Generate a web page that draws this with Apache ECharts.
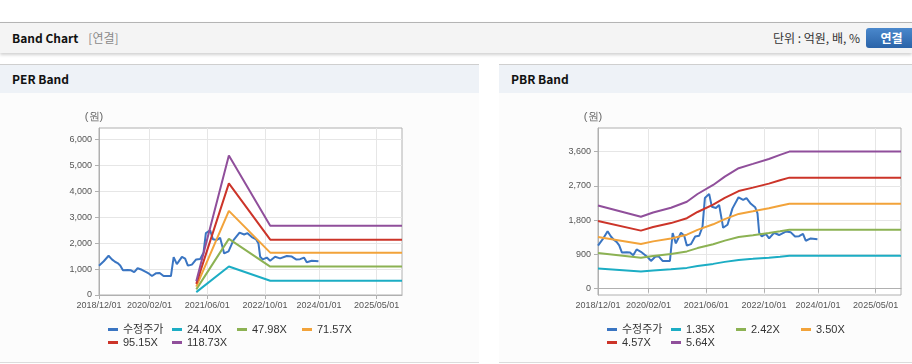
<!DOCTYPE html>
<html>
<head>
<meta charset="utf-8">
<script src="https://cdn.jsdelivr.net/npm/echarts@6/dist/echarts.min.js"></script>
<style>
body { margin:0; background:#fff; font-family:"Noto Sans CJK KR", sans-serif; width:912px; height:364px; position:relative; overflow:hidden; }
.hd { position:absolute; left:0; top:22px; width:912px; height:30px; background:#f4f4f4; border-top:1px solid #b4b4b4; box-shadow:0 2px 3px rgba(0,0,0,0.18); }
.hd .t { position:absolute; left:12px; top:0; line-height:30px; font-size:12px; font-weight:bold; color:#111; }
.hd .t span { color:#8a8a8a; font-weight:normal; margin-left:10px; }
.hd .u { position:absolute; right:52px; top:0; line-height:30px; font-size:12px; color:#333; }
.hd .btn { position:absolute; left:866px; top:5px; width:51px; height:20px; border-radius:3px; background:linear-gradient(#4a88cc,#2a63a8); color:#fff; font-size:12px; font-weight:bold; text-align:center; line-height:20px; }
.panel { position:absolute; top:64px; height:297px; border-top:1px solid #cfcfcf; border-bottom:1px solid #dcdcdc; background:#fcfcfc; }
.panel .ph { height:28px; background:#eef2f7; font-size:12px; font-weight:bold; color:#111; line-height:28px; padding-left:12px; }
.chart { position:absolute; left:0; top:28px; width:100%; height:269px; }
</style>
</head>
<body>
<div class="hd">
  <div class="t">Band Chart<span>[연결]</span></div>
  <div class="u">단위 : 억원, 배, %</div>
  <div class="btn">연결</div>
</div>
<div class="panel" style="left:0;width:479px;">
  <div class="ph">PER Band</div>
  <div class="chart" id="perChart"></div>
</div>
<div class="panel" style="left:499px;width:413px;">
  <div class="ph">PBR Band</div>
  <div class="chart" id="pbrChart"></div>
</div>
<script>
// 수정주가 (same price in both charts)
var priceDates = ['2018-12-01','2019-01-10','2019-02-20','2019-03-20','2019-04-15','2019-05-07','2019-05-29','2019-06-21',
  '2019-07-31','2019-08-28','2019-09-24','2019-10-23','2019-11-28','2020-01-04','2020-01-27','2020-02-21','2020-03-28',
  '2020-04-26','2020-05-29','2020-07-30','2020-08-08','2020-08-22','2020-09-18','2020-10-16','2020-10-31','2020-11-27',
  '2020-12-20','2021-01-23','2021-02-28','2021-04-03','2021-05-01','2021-05-21','2021-06-26','2021-07-19','2021-08-22',
  '2021-09-18','2021-10-11','2021-10-22','2021-11-28','2022-01-09','2022-03-01','2022-04-09','2022-05-07','2022-06-13',
  '2022-07-19','2022-08-08','2022-08-22','2022-09-13','2022-10-17','2022-11-14','2022-12-26','2023-02-06','2023-04-04',
  '2023-05-16','2023-06-21','2023-07-25','2023-08-27','2023-09-19','2023-10-31','2023-12-27'];
var priceValues = [1130,1300,1510,1370,1280,1230,1140,950,
  960,950,880,1030,970,880,820,730,840,
  850,730,730,730,1460,1190,1370,1470,1400,
  1130,1170,1370,1390,1630,2380,2490,2150,2120,
  2200,1800,1600,1680,2110,2400,2330,2380,2230,
  2140,1980,1470,1370,1440,1320,1470,1410,1500,
  1480,1370,1380,1440,1260,1320,1300];

// PER band
var perNames = ['수정주가','24.40X','47.98X','71.57X','95.15X','118.73X'];
var perBandDates = ['2021-03-01','2021-12-01','2022-11-15','2025-12-01'];
var per24 = [110, 1100, 550, 550];
var per48 = [216, 2160, 1095, 1095];
var per72 = [322, 3240, 1630, 1630];
var per95 = [428, 4300, 2130, 2130];
var per119 = [534, 5370, 2665, 2665];

// PBR band
var pbrNames = ['수정주가','1.35X','2.42X','3.50X','4.57X','5.64X'];
var pbrBandDates = ['2018-12-01','2019-11-28','2020-03-10','2020-08-08','2020-12-20','2021-03-20','2021-07-30',
  '2021-11-05','2022-03-02','2022-06-30','2022-11-12','2023-02-14','2023-05-04','2025-12-01'];
var pbr135 = [530, 452, 479, 509, 547, 595, 652, 705, 757, 784, 815, 841, 868, 868];
var pbr242 = [940, 811, 859, 912, 980, 1067, 1169, 1263, 1358, 1406, 1462, 1508, 1548, 1548];
var pbr350 = [1360, 1173, 1243, 1320, 1418, 1544, 1691, 1827, 1964, 2034, 2114, 2181, 2233, 2233];
var pbr457 = [1780, 1525, 1622, 1723, 1851, 2015, 2207, 2386, 2564, 2655, 2760, 2847, 2916, 2916];
var pbr564 = [2183, 1889, 2002, 2126, 2284, 2487, 2724, 2944, 3164, 3277, 3407, 3514, 3600, 3600];

var xTickDates = ['2018-12-01','2020-02-01','2021-06-01','2022-10-01','2024-01-01','2025-05-01'];
var perTicks = [0,1000,2000,3000,4000,5000,6000];
var pbrTicks = [0,900,1800,2700,3600];

var colors = ['#3a75c2','#1cadc4','#8cb253','#f2a33a','#cc3429','#904f9b'];
var fontNum = "'Liberation Sans', 'Noto Sans CJK KR', sans-serif";

function ts(d) { return echarts.number.parseDate(d).getTime(); }
function pairs(dates, vals) { return dates.map(function (d, i) { return [ts(d), vals[i]]; }); }

// legend laid out as a 4-column grid, one legend per item
var legendCols = [108, 172, 237, 302];
var legendRows = [231, 244];

function makeOption(names, bandDates, bands, yMin, yMax, yTicks) {
    var series = [{ name: names[0], data: pairs(priceDates, priceValues) }];
    bands.forEach(function (b, i) { series.push({ name: names[i + 1], data: pairs(bandDates, b) }); });
    series.forEach(function (s, i) {
        s.type = 'line';
        s.showSymbol = false;
        s.color = colors[i];
        s.lineStyle = { width: 2 };
        s.emphasis = { disabled: true };
    });
    var legends = names.map(function (n, i) {
        return {
            left: legendCols[i % 4], top: legendRows[Math.floor(i / 4)],
            padding: 0, itemWidth: 10, itemHeight: 3, icon: 'rect', data: [n],
            textStyle: { fontSize: 11, color: '#333', fontFamily: fontNum }
        };
    });
    return {
        animation: false,
        grid: { left: 99, top: 35, width: 303, height: 167, show: true, borderColor: '#b0b0b0', borderWidth: 1, backgroundColor: '#fff' },
        legend: legends,
        xAxis: {
            type: 'value',
            min: ts('2018-12-01'),
            max: ts('2025-12-01'),
            axisLine: { lineStyle: { color: '#b0b0b0' } },
            axisTick: { length: 4, lineStyle: { color: '#b0b0b0' }, customValues: xTickDates.map(ts) },
            axisLabel: {
                customValues: xTickDates.map(ts), margin: 6, color: '#555', fontSize: 9, fontFamily: fontNum,
                formatter: function (v) { return echarts.time.format(v, '{yyyy}/{MM}/{dd}', false); }
            },
            splitLine: { show: true, lineStyle: { color: '#e6e6e6' } }
        },
        yAxis: {
            type: 'value',
            min: yMin,
            max: yMax,
            name: '(원)',
            nameLocation: 'end',
            nameGap: 6,
            nameTextStyle: { color: '#666', fontSize: 11, padding: [0, 10, 0, 0] },
            axisLine: { show: true, lineStyle: { color: '#b0b0b0' } },
            axisTick: { show: true, length: 4, lineStyle: { color: '#b0b0b0' }, customValues: yTicks },
            axisLabel: {
                customValues: yTicks, margin: 7, color: '#555', fontSize: 9, fontFamily: fontNum,
                formatter: function (v) { return echarts.format.addCommas(v); }
            },
            splitLine: { show: true, lineStyle: { color: '#e6e6e6' } }
        },
        series: series
    };
}

var perChart = echarts.init(document.getElementById('perChart'));
perChart.setOption(makeOption(perNames, perBandDates, [per24, per48, per72, per95, per119], 0, 6430, perTicks));

var pbrChart = echarts.init(document.getElementById('pbrChart'));
pbrChart.setOption(makeOption(pbrNames, pbrBandDates, [pbr135, pbr242, pbr350, pbr457, pbr564], -165, 4220, pbrTicks));
</script>
</body>
</html>
